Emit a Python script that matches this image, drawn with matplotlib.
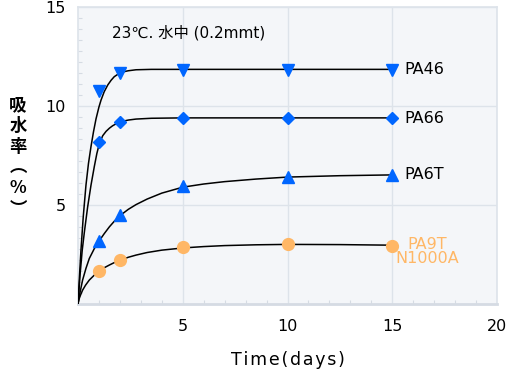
import numpy as np
import matplotlib
matplotlib.use('Agg')
import matplotlib.pyplot as plt
from matplotlib.ticker import FixedLocator

plt.rcParams['font.family'] = ['DejaVu Sans', 'Noto Sans CJK JP']

# measured points
days = [1, 2, 5, 10, 15]
pa46 = [10.75, 11.67, 11.82, 11.82, 11.82]
pa66 = [8.2, 9.18, 9.38, 9.38, 9.38]
pa6t = [3.18, 4.5, 5.98, 6.43, 6.52]
pa9t = [1.67, 2.2, 2.88, 3.03, 2.95]

# fitted curves
x46 = [0, 0.03, 0.07, 0.14, 0.25, 0.38, 0.5, 0.62, 0.74, 0.86, 1.0, 1.1, 1.25, 1.42, 1.58, 1.73, 1.9, 2.05, 2.4, 2.77, 3.5, 5, 10, 15]
y46 = [0, 0.6, 1.4, 2.7, 4.4, 6.0, 7.1, 7.95, 8.7, 9.35, 9.95, 10.3, 10.72, 11.06, 11.3, 11.48, 11.6, 11.7, 11.78, 11.83, 11.85, 11.85, 11.85, 11.85]
x66 = [0, 0.05, 0.1, 0.2, 0.3, 0.46, 0.62, 0.78, 0.9, 1.02, 1.18, 1.34, 1.5, 1.65, 1.85, 2.05, 2.4, 2.77, 3.5, 5, 10, 15]
y66 = [0, 0.75, 1.5, 2.7, 3.6, 4.9, 6.0, 6.95, 7.6, 8.1, 8.5, 8.72, 8.88, 9.0, 9.12, 9.21, 9.29, 9.34, 9.38, 9.4, 9.4, 9.4]
x6t = [0, 0.1, 0.22, 0.38, 0.54, 0.78, 1.02, 1.25, 1.5, 1.75, 2.05, 2.4, 2.77, 3.3, 4, 5, 6, 7, 8.5, 10, 12.5, 15]
y6t = [0, 0.6, 1.21, 1.8, 2.3, 2.8, 3.2, 3.55, 3.9, 4.2, 4.5, 4.78, 5.02, 5.3, 5.6, 5.9, 6.06, 6.18, 6.31, 6.41, 6.48, 6.52]
x9t = [0, 0.05, 0.12, 0.22, 0.36, 0.54, 0.78, 1.05, 1.25, 1.5, 1.75, 2.05, 2.4, 2.77, 3.3, 4, 5, 6, 7, 8.5, 10, 12.5, 15]
y9t = [0, 0.25, 0.45, 0.7, 0.95, 1.21, 1.46, 1.68, 1.83, 1.97, 2.1, 2.22, 2.36, 2.47, 2.6, 2.72, 2.83, 2.9, 2.95, 2.99, 3.01, 3.0, 2.97]

names = ['PA46', 'PA66', 'PA6T', 'PA9T\nN1000A']

blue = '#0066ff'
orange = '#ffb766'

fig = plt.figure(figsize=(5.09, 3.70), dpi=100)
ax = fig.add_axes([78/509, 1-304/370, 419/509, 297/370])
ax.set_facecolor('#f4f6f9')

for cx, cy in [(x46, y46), (x66, y66), (x6t, y6t), (x9t, y9t)]:
    ax.plot(cx, cy, color='black', lw=1.1, zorder=3, solid_joinstyle='round')

ax.plot(days, pa46, 'v', color=blue, ms=8, zorder=4, clip_on=False)
ax.plot(days, pa66, 'D', color=blue, ms=6.5, zorder=4, clip_on=False)
ax.plot(days, pa6t, '^', color=blue, ms=8, zorder=4, clip_on=False)
ax.plot(days, pa9t, 'o', color=orange, ms=8.5, zorder=4, clip_on=False)

# series labels
lab_y = [pa46[-1], pa66[-1], pa6t[-1], pa9t[-1]]
for i, (n, y) in enumerate(zip(names, lab_y)):
    if i == 3:
        ax.text(16.65, y + 0.45, n, color=orange, fontsize=11.5, va='top',
                ha='center', linespacing=0.95)
    else:
        ax.text(15.6, y, n, color='black', fontsize=11.5, va='center', ha='left')

ax.text(1.6, 13.69, '23℃. 水中 (0.2mmt)', fontsize=11, va='center', ha='left')

ax.set_xlim(0, 20)
ax.set_ylim(0, 15)
ax.set_xticks([5, 10, 15, 20])
ax.set_yticks([5, 10, 15])
ax.xaxis.set_minor_locator(FixedLocator(np.arange(1, 20, 1)))
ax.yaxis.set_minor_locator(FixedLocator(np.arange(1, 27) * 5 / 9))
ax.tick_params(which='major', length=0, labelsize=11.5)
ax.tick_params(axis='x', which='major', pad=11)
ax.tick_params(axis='y', which='major', pad=9)
ax.tick_params(which='minor', direction='in', length=3, color='#d5dbe3', width=0.8)
ax.grid(True, which='major', color='#dde3ea', lw=1)
ax.set_axisbelow(True)
for s in ax.spines.values():
    s.set_color('#dde3ea')
    s.set_linewidth(1.2)
ax.spines['bottom'].set_color('#d5dbe3')
ax.spines['bottom'].set_linewidth(2)

ax.set_xlabel('\u200a'.join('Time(days)'), fontsize=12.5, labelpad=12)
fig.text(18/509, 1-157/370, '吸\n水\n率\n︵\n%\n︶', fontsize=12.5, fontweight='bold',
         ha='center', va='center', linespacing=1.2, family='Noto Sans CJK JP')

fig.savefig('out.png', dpi=100)
